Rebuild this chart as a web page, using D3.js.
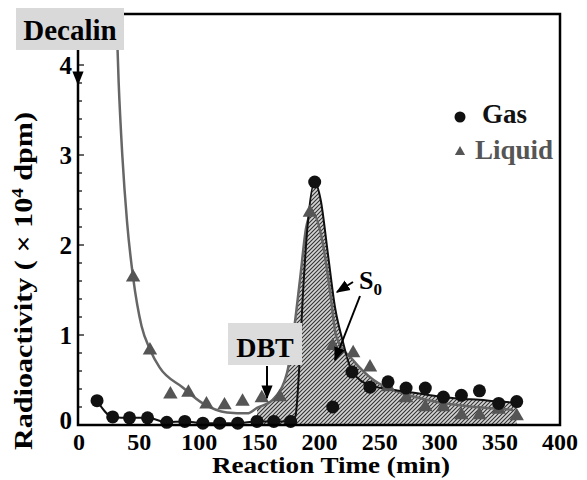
<!DOCTYPE html>
<html>
<head>
    <title>Radioactivity vs Reaction Time</title>
    <style>
        body { margin: 0; background: #fff; }
        text { font-family: "Liberation Serif", "Times New Roman", serif; font-weight: bold; }
    </style>
    <script src="https://d3js.org/d3.v7.min.js"></script>
</head>
<body>
    <div id="chart"></div>
    <script>
        // measured points
        const gasTime = [15, 28, 42, 57, 73, 88, 103, 117, 132, 148, 162, 176, 196, 211, 227, 242, 257, 272, 288, 303, 318, 333, 349, 364];
        const gasValue = [0.27, 0.09, 0.08, 0.08, 0.03, 0.04, 0.02, 0.02, 0.02, 0.04, 0.04, 0.04, 2.70, 0.20, 0.59, 0.42, 0.48, 0.41, 0.41, 0.31, 0.33, 0.38, 0.24, 0.26];
        const liquidTime = [45, 59, 76, 91, 106, 121, 136, 152, 167, 192, 211, 228, 242, 257, 272, 288, 303, 318, 333, 349, 364];
        const liquidValue = [1.64, 0.83, 0.34, 0.36, 0.23, 0.22, 0.26, 0.30, 0.31, 2.36, 0.88, 0.80, 0.64, 0.42, 0.30, 0.20, 0.20, 0.11, 0.11, 0.17, 0.10];

        // fitted curves
        const gasFitTime = [176, 180, 183, 186, 190, 196, 201, 207, 213, 219, 227, 242, 257, 272, 288, 303, 318, 333, 349, 364];
        const gasFitValue = [0.04, 0.10, 0.60, 1.40, 2.20, 2.70, 2.50, 1.90, 1.30, 0.95, 0.60, 0.44, 0.40, 0.37, 0.34, 0.31, 0.29, 0.28, 0.26, 0.25];
        const liquidFitTime = [30.5, 33, 36, 40, 45, 52, 59, 67, 86, 103, 123, 140, 148, 161, 173, 178, 184, 189, 194, 203, 209, 214, 228, 245, 270, 300, 330, 361];
        const liquidFitValue = [4.8, 3.8, 3.0, 2.25, 1.64, 1.10, 0.84, 0.64, 0.42, 0.24, 0.14, 0.13, 0.19, 0.28, 0.58, 0.98, 1.64, 2.20, 2.36, 2.00, 1.46, 0.98, 0.72, 0.50, 0.35, 0.25, 0.20, 0.17];

        const xTicks = [0, 50, 100, 150, 200, 250, 300, 350, 400];
        const yTicks = [0, 1, 2, 3, 4];

        const width = 587, height = 480;
        const x = d3.scaleLinear().domain([0, 400]).range([79, 560]);
        const y = d3.scaleLinear().domain([0, 4.5667]).range([425, 14]);

        const svg = d3.select("#chart").append("svg")
            .attr("width", width)
            .attr("height", height);

        const defs = svg.append("defs");
        defs.append("clipPath").attr("id", "plot")
            .append("rect").attr("x", 79).attr("y", 14).attr("width", 481).attr("height", 411);
        const pat = defs.append("pattern").attr("id", "hatch")
            .attr("patternUnits", "userSpaceOnUse")
            .attr("width", 4).attr("height", 4);
        pat.append("rect").attr("width", 4).attr("height", 4).attr("fill", "#d4d4d4");
        pat.append("path")
            .attr("d", "M-1,1 l2,-2 M0,4 l4,-4 M3,5 l2,-2")
            .attr("stroke", "#333").attr("stroke-width", 1.1);
        defs.append("marker").attr("id", "arrow")
            .attr("viewBox", "0 0 10 10").attr("refX", 9).attr("refY", 5)
            .attr("markerWidth", 7).attr("markerHeight", 7)
            .attr("orient", "auto")
            .append("path").attr("d", "M0,1 L10,5 L0,9 z").attr("fill", "#000");

        const liquidFit = liquidFitTime.map((t, i) => [t, liquidFitValue[i]]);
        const gasFit = gasFitTime.map((t, i) => [t, gasFitValue[i]]);
        const gasEarly = gasTime.map((t, i) => [t, gasValue[i]]).filter(d => d[0] < 176);
        const gasLine = gasEarly.concat(gasFit);

        const plot = svg.append("g").attr("clip-path", "url(#plot)");

        // hatched areas
        const area = d3.area()
            .x(d => x(d[0])).y0(y(0)).y1(d => y(d[1]))
            .curve(d3.curveMonotoneX);
        plot.append("path")
            .datum(liquidFit.filter(d => d[0] >= 146))
            .attr("d", area).attr("fill", "url(#hatch)");
        plot.append("path")
            .datum(gasFit)
            .attr("d", area).attr("fill", "url(#hatch)");

        const line = d3.line()
            .x(d => x(d[0])).y(d => y(d[1]))
            .curve(d3.curveMonotoneX);

        plot.append("path").datum(liquidFit)
            .attr("d", line).attr("fill", "none")
            .attr("stroke", "#666").attr("stroke-width", 2.5);
        plot.append("path").datum(gasLine)
            .attr("d", line).attr("fill", "none")
            .attr("stroke", "#111").attr("stroke-width", 2);

        // markers
        svg.append("g").selectAll("path")
            .data(liquidTime.map((t, i) => [t, liquidValue[i]]))
            .enter().append("path")
            .attr("transform", d => `translate(${x(d[0])},${y(d[1])})`)
            .attr("d", d3.symbol().type(d3.symbolTriangle).size(90))
            .attr("fill", "#555");
        svg.append("g").selectAll("circle")
            .data(gasTime.map((t, i) => [t, gasValue[i]]))
            .enter().append("circle")
            .attr("cx", d => x(d[0])).attr("cy", d => y(d[1]))
            .attr("r", 6.5).attr("fill", "#111");

        // frame
        svg.append("rect")
            .attr("x", 78).attr("y", 14).attr("width", 482).attr("height", 411)
            .attr("fill", "none").attr("stroke", "#000").attr("stroke-width", 2.5);

        // y ticks, inward
        const yMinor = d3.range(0, 4.41, 0.2);
        svg.append("g").selectAll("line")
            .data(yMinor).enter().append("line")
            .attr("x1", 78).attr("x2", d => Math.abs(d - Math.round(d)) < 0.01 ? 84 : 82)
            .attr("y1", d => y(d)).attr("y2", d => y(d))
            .attr("stroke", "#000").attr("stroke-width", 1.2);

        svg.append("g").selectAll("text")
            .data(yTicks).enter().append("text")
            .attr("x", 72).attr("y", d => d === 0 ? y(d) + 4 : y(d) + 9)
            .attr("text-anchor", "end")
            .attr("font-size", 25)
            .text(d => d);

        svg.append("g").selectAll("text")
            .data(xTicks).enter().append("text")
            .attr("x", d => x(d)).attr("y", 450)
            .attr("text-anchor", "middle")
            .attr("font-size", 24)
            .text(d => d);

        // axis titles
        svg.append("text")
            .attr("x", 331).attr("y", 473)
            .attr("text-anchor", "middle")
            .attr("font-size", 23)
            .attr("textLength", 238).attr("lengthAdjust", "spacingAndGlyphs")
            .text("Reaction Time (min)");

        const yl = svg.append("text")
            .attr("transform", "translate(32,281) rotate(-90)")
            .attr("text-anchor", "middle")
            .attr("font-size", 25)
            .attr("textLength", 338).attr("lengthAdjust", "spacingAndGlyphs");
        yl.append("tspan").text("Radioactivity ( \u00d7 10");
        yl.append("tspan").attr("font-size", 16).attr("dy", -9).text("4");
        yl.append("tspan").attr("dy", 9).text(" dpm)");

        // legend
        svg.append("circle").attr("cx", 460).attr("cy", 117).attr("r", 5.5).attr("fill", "#111");
        svg.append("text").attr("x", 482).attr("y", 123).attr("font-size", 27).attr("fill", "#111").text("Gas");
        svg.append("path")
            .attr("transform", "translate(460,152)")
            .attr("d", d3.symbol().type(d3.symbolTriangle).size(45))
            .attr("fill", "#555");
        svg.append("text").attr("x", 475).attr("y", 159).attr("font-size", 27).attr("fill", "#555").text("Liquid");

        // annotations
        svg.append("rect").attr("x", 16).attr("y", 8).attr("width", 108).attr("height", 42).attr("fill", "#d9d9d9");
        svg.append("text").attr("x", 70).attr("y", 40).attr("text-anchor", "middle")
            .attr("font-size", 29).text("Decalin");
        svg.append("line").attr("x1", 78).attr("y1", 50).attr("x2", 78).attr("y2", 84)
            .attr("stroke", "#000").attr("stroke-width", 2).attr("marker-end", "url(#arrow)");

        svg.append("rect").attr("x", 228).attr("y", 323).attr("width", 74).attr("height", 42).attr("fill", "#dcdcdc");
        svg.append("text").attr("x", 265).attr("y", 357).attr("text-anchor", "middle")
            .attr("font-size", 28).text("DBT");
        svg.append("line").attr("x1", 267).attr("y1", 366).attr("x2", 267).attr("y2", 398)
            .attr("stroke", "#000").attr("stroke-width", 2).attr("marker-end", "url(#arrow)");

        const s0 = svg.append("text").attr("x", 359).attr("y", 289).attr("font-size", 26);
        s0.append("tspan").text("S");
        s0.append("tspan").attr("font-size", 17).attr("dy", 6).text("0");
        svg.append("line").attr("x1", 353).attr("y1", 282).attr("x2", 337).attr("y2", 292)
            .attr("stroke", "#000").attr("stroke-width", 2).attr("marker-end", "url(#arrow)");
        svg.append("line").attr("x1", 360).attr("y1", 296).attr("x2", 335).attr("y2", 360)
            .attr("stroke", "#000").attr("stroke-width", 2).attr("marker-end", "url(#arrow)");
    </script>
</body>
</html>
